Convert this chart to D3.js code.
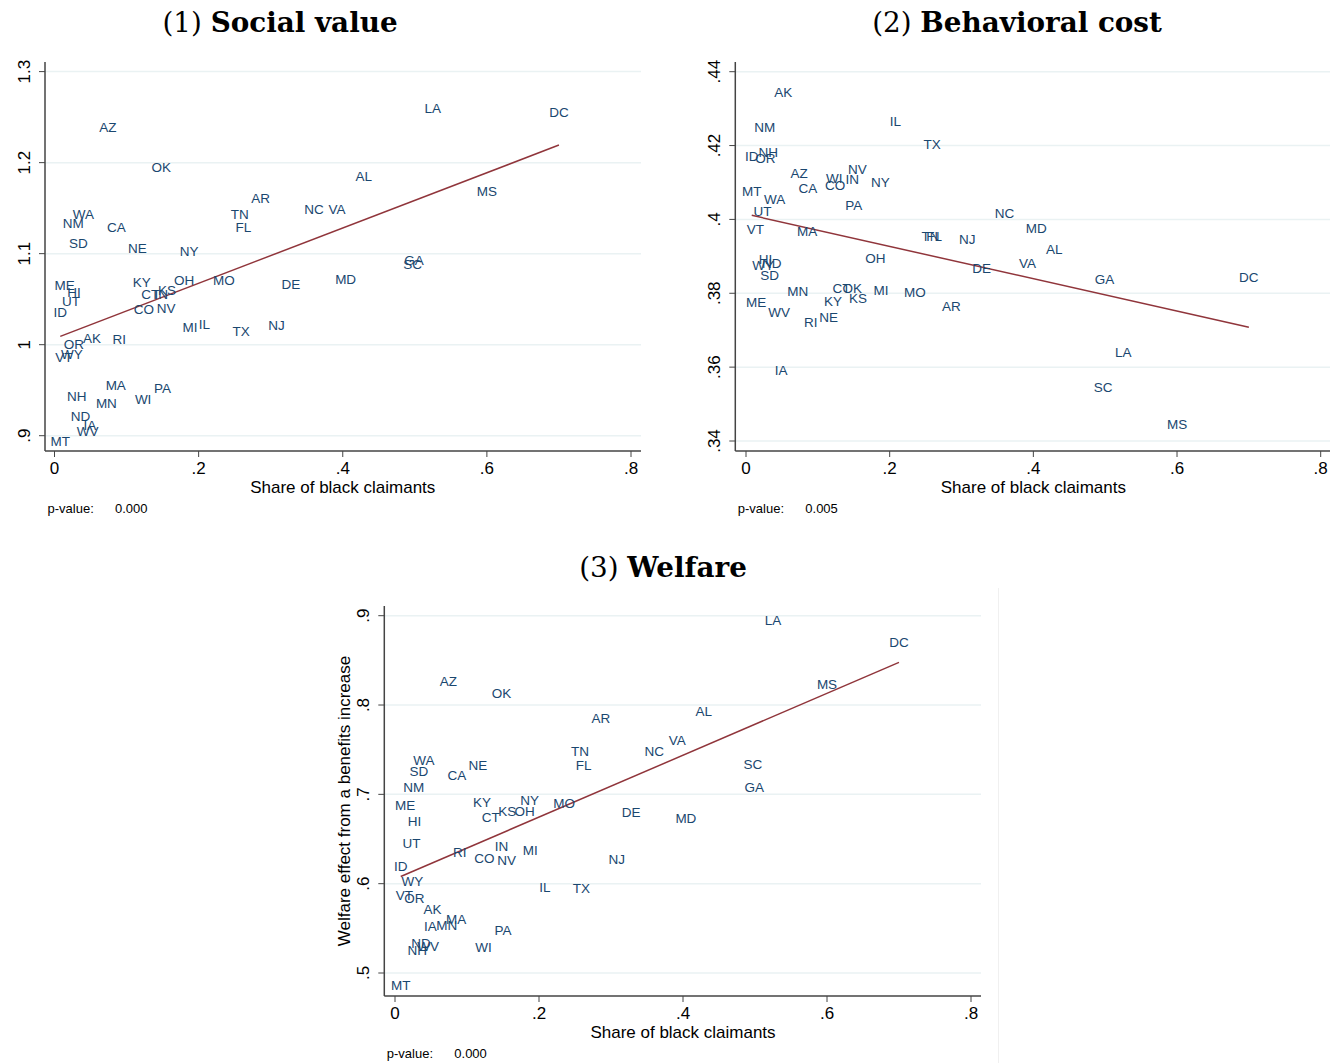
<!DOCTYPE html>
<html>
<head>
<meta charset="utf-8">
<script src="https://cdn.jsdelivr.net/npm/d3@7"></script>
<style>
  body { margin: 0; background: #fff; }
  svg text { font-family: "Liberation Sans", Arial, sans-serif; }
</style>
</head>
<body>
<div id="chart"></div>
<script>
// state codes and share of black claimants (same x in every panel)
const states = ["LA","DC","MS","AL","VA","NC","SC","GA","MD","AZ","OK","AR","TN","FL","WA","SD","NM","CA","NE","ME",
  "HI","KY","CT","KS","OH","NY","MO","DE","UT","IN","MI","RI","CO","NV","NJ","ID","WY","VT","OR","IL",
  "TX","AK","IA","MN","MA","PA","ND","NH","WV","WI","MT"];
const share = [0.525,0.700,0.600,0.429,0.392,0.360,0.497,0.499,0.404,0.074,0.148,0.286,0.257,0.262,0.040,0.033,0.026,0.086,0.115,0.014,
  0.027,0.121,0.133,0.156,0.180,0.187,0.235,0.328,0.023,0.148,0.188,0.090,0.124,0.155,0.308,0.008,0.024,0.013,0.027,0.208,
  0.259,0.052,0.049,0.072,0.085,0.150,0.036,0.031,0.046,0.123,0.008];

// (1) social value
const socialValue = [1.260,1.255,1.169,1.185,1.149,1.149,1.089,1.093,1.072,1.239,1.195,1.161,1.143,1.129,1.143,1.112,1.133,1.129,1.106,1.065,
  1.058,1.069,1.056,1.060,1.071,1.103,1.071,1.067,1.048,1.055,1.019,1.006,1.039,1.040,1.022,1.036,0.990,0.986,1.001,1.023,
  1.015,1.007,0.912,0.936,0.956,0.952,0.922,0.944,0.905,0.940,0.894];

// (2) behavioral cost
const behavioralCost = [0.3640,0.3845,0.3446,0.3919,0.3881,0.4017,0.3545,0.3839,0.3976,0.4125,0.3815,0.3766,0.3955,0.3955,0.4054,0.3848,0.4249,0.4086,0.3735,0.3776,
  0.3892,0.3779,0.3813,0.3786,0.3895,0.4102,0.3802,0.3868,0.4023,0.4109,0.3809,0.3721,0.4093,0.4137,0.3946,0.4170,0.3877,0.3973,0.4165,0.4265,
  0.4203,0.4346,0.3592,0.3806,0.3967,0.4039,0.3881,0.4183,0.3748,0.4111,0.4077];

// (3) welfare
const welfare = [0.895,0.870,0.823,0.793,0.761,0.748,0.734,0.708,0.673,0.827,0.813,0.785,0.748,0.733,0.738,0.726,0.708,0.721,0.733,0.688,
  0.670,0.691,0.674,0.681,0.681,0.693,0.690,0.680,0.645,0.642,0.638,0.635,0.629,0.626,0.627,0.620,0.603,0.587,0.584,0.596,
  0.595,0.572,0.553,0.554,0.560,0.548,0.533,0.526,0.530,0.529,0.486];

const xTicks = [0, 0.2, 0.4, 0.6, 0.8];
const xTickLabels = ["0", ".2", ".4", ".6", ".8"];
const yTicks1 = [0.9, 1.0, 1.1, 1.2, 1.3];
const yTickLabels1 = [".9", "1", "1.1", "1.2", "1.3"];
const yTicks2 = [0.34, 0.36, 0.38, 0.40, 0.42, 0.44];
const yTickLabels2 = [".34", ".36", ".38", ".4", ".42", ".44"];
const yTicks3 = [0.5, 0.6, 0.7, 0.8, 0.9];
const yTickLabels3 = [".5", ".6", ".7", ".8", ".9"];
const pValues = ["0.000", "0.005", "0.000"];

const navy = "#1a476f", maroon = "#90353b", grid = "#eaf2f3", axisCol = "#444";

const svg = d3.select("#chart").append("svg")
  .attr("width", 1330).attr("height", 1063);

// faint border line right of panel 3
svg.append("line")
  .attr("x1", 998.5).attr("x2", 998.5).attr("y1", 588).attr("y2", 1063)
  .attr("stroke", "#f0f0f0").attr("stroke-width", 1);

const panels = [
  { num: "(1)", title: "Social value", titleX: 280, titleY: 32, values: socialValue,
    yDom: [0.9, 1.3], yRange: [435.7, 71.6], yTicks: yTicks1, yLabels: yTickLabels1,
    xRange: [54.5, 631], axisX: 45, axisTop: 62, axisY: 451, right: 641, p: pValues[0] },
  { num: "(2)", title: "Behavioral cost", titleX: 1017, titleY: 32, values: behavioralCost,
    yDom: [0.34, 0.44], yRange: [441, 71.7], yTicks: yTicks2, yLabels: yTickLabels2,
    xRange: [746, 1320.7], axisX: 735.3, axisTop: 62, axisY: 451, right: 1330, p: pValues[1] },
  { num: "(3)", title: "Welfare", titleX: 663, titleY: 577, values: welfare,
    yDom: [0.5, 0.9], yRange: [973, 615.7], yTicks: yTicks3, yLabels: yTickLabels3,
    xRange: [395, 971], axisX: 384.3, axisTop: 606, axisY: 996, right: 981, p: pValues[2],
    yTitle: "Welfare effect from a benefits increase" }
];

panels.forEach(pn => {
  const x = d3.scaleLinear().domain([0, 0.8]).range(pn.xRange);
  const y = d3.scaleLinear().domain(pn.yDom).range(pn.yRange);
  const g = svg.append("g");

  // title
  const t = g.append("text")
    .attr("x", pn.titleX).attr("y", pn.titleY)
    .attr("text-anchor", "middle")
    .style("font-family", "'DejaVu Serif', 'Liberation Serif', serif")
    .style("font-size", "27.8px").attr("fill", "#000");
  t.append("tspan").text(pn.num + " ");
  t.append("tspan").style("font-weight", "bold").text(pn.title);

  // gridlines
  g.selectAll(".grid").data(pn.yTicks).join("line")
    .attr("x1", pn.axisX).attr("x2", pn.right)
    .attr("y1", d => y(d)).attr("y2", d => y(d))
    .attr("stroke", grid).attr("stroke-width", 1.5);

  // y axis
  g.append("line")
    .attr("x1", pn.axisX).attr("x2", pn.axisX)
    .attr("y1", pn.axisTop).attr("y2", pn.axisY)
    .attr("stroke", axisCol).attr("stroke-width", 1.5);
  g.selectAll(".ytick").data(pn.yTicks).join("line")
    .attr("x1", pn.axisX - 6).attr("x2", pn.axisX)
    .attr("y1", d => y(d)).attr("y2", d => y(d))
    .attr("stroke", axisCol).attr("stroke-width", 1);
  g.selectAll(".ylab").data(pn.yTicks).join("text")
    .attr("transform", d => `translate(${pn.axisX - 15},${y(d)}) rotate(-90)`)
    .attr("text-anchor", "middle")
    .style("font-size", "17px").attr("fill", "#000")
    .text((d, i) => pn.yLabels[i]);

  // x axis
  g.append("line")
    .attr("x1", pn.axisX).attr("x2", pn.right)
    .attr("y1", pn.axisY).attr("y2", pn.axisY)
    .attr("stroke", axisCol).attr("stroke-width", 1.5);
  g.selectAll(".xtick").data(xTicks).join("line")
    .attr("x1", d => x(d)).attr("x2", d => x(d))
    .attr("y1", pn.axisY).attr("y2", pn.axisY + 6)
    .attr("stroke", axisCol).attr("stroke-width", 1);
  g.selectAll(".xlab").data(xTicks).join("text")
    .attr("x", d => x(d)).attr("y", pn.axisY + 23)
    .attr("text-anchor", "middle")
    .style("font-size", "17px").attr("fill", "#000")
    .text((d, i) => xTickLabels[i]);

  g.append("text")
    .attr("x", (pn.xRange[0] + pn.xRange[1]) / 2).attr("y", pn.axisY + 42)
    .attr("text-anchor", "middle")
    .style("font-size", "17px").attr("fill", "#000")
    .text("Share of black claimants");

  if (pn.yTitle) {
    g.append("text")
      .attr("transform", `translate(${pn.axisX - 34},${(pn.axisTop + pn.axisY) / 2}) rotate(-90)`)
      .attr("text-anchor", "middle")
      .style("font-size", "17px").attr("fill", "#000")
      .text(pn.yTitle);
  }

  // p-value note
  g.append("text")
    .attr("x", pn.axisX + 2.5).attr("y", pn.axisY + 62)
    .style("font-size", "13px").attr("fill", "#000")
    .text("p-value:");
  g.append("text")
    .attr("x", pn.axisX + 70).attr("y", pn.axisY + 62)
    .style("font-size", "13px").attr("fill", "#000")
    .text(pn.p);

  // linear fit
  const mx = d3.mean(share), my = d3.mean(pn.values);
  const sxy = d3.sum(share, (v, i) => (v - mx) * (pn.values[i] - my));
  const sxx = d3.sum(share, v => (v - mx) * (v - mx));
  const b = sxy / sxx, a = my - b * mx;
  const ext = d3.extent(share);
  g.append("path")
    .datum(ext)
    .attr("d", d3.line().x(d => x(d)).y(d => y(a + b * d)))
    .attr("stroke", maroon).attr("stroke-width", 1.5).attr("fill", "none");

  // state labels at the data points
  g.selectAll(".lab").data(states).join("text")
    .attr("x", (d, i) => x(share[i]))
    .attr("y", (d, i) => y(pn.values[i]))
    .attr("dy", "0.36em")
    .attr("text-anchor", "middle")
    .style("font-size", "13.5px").attr("fill", navy)
    .text(d => d);
});
</script>
</body>
</html>
